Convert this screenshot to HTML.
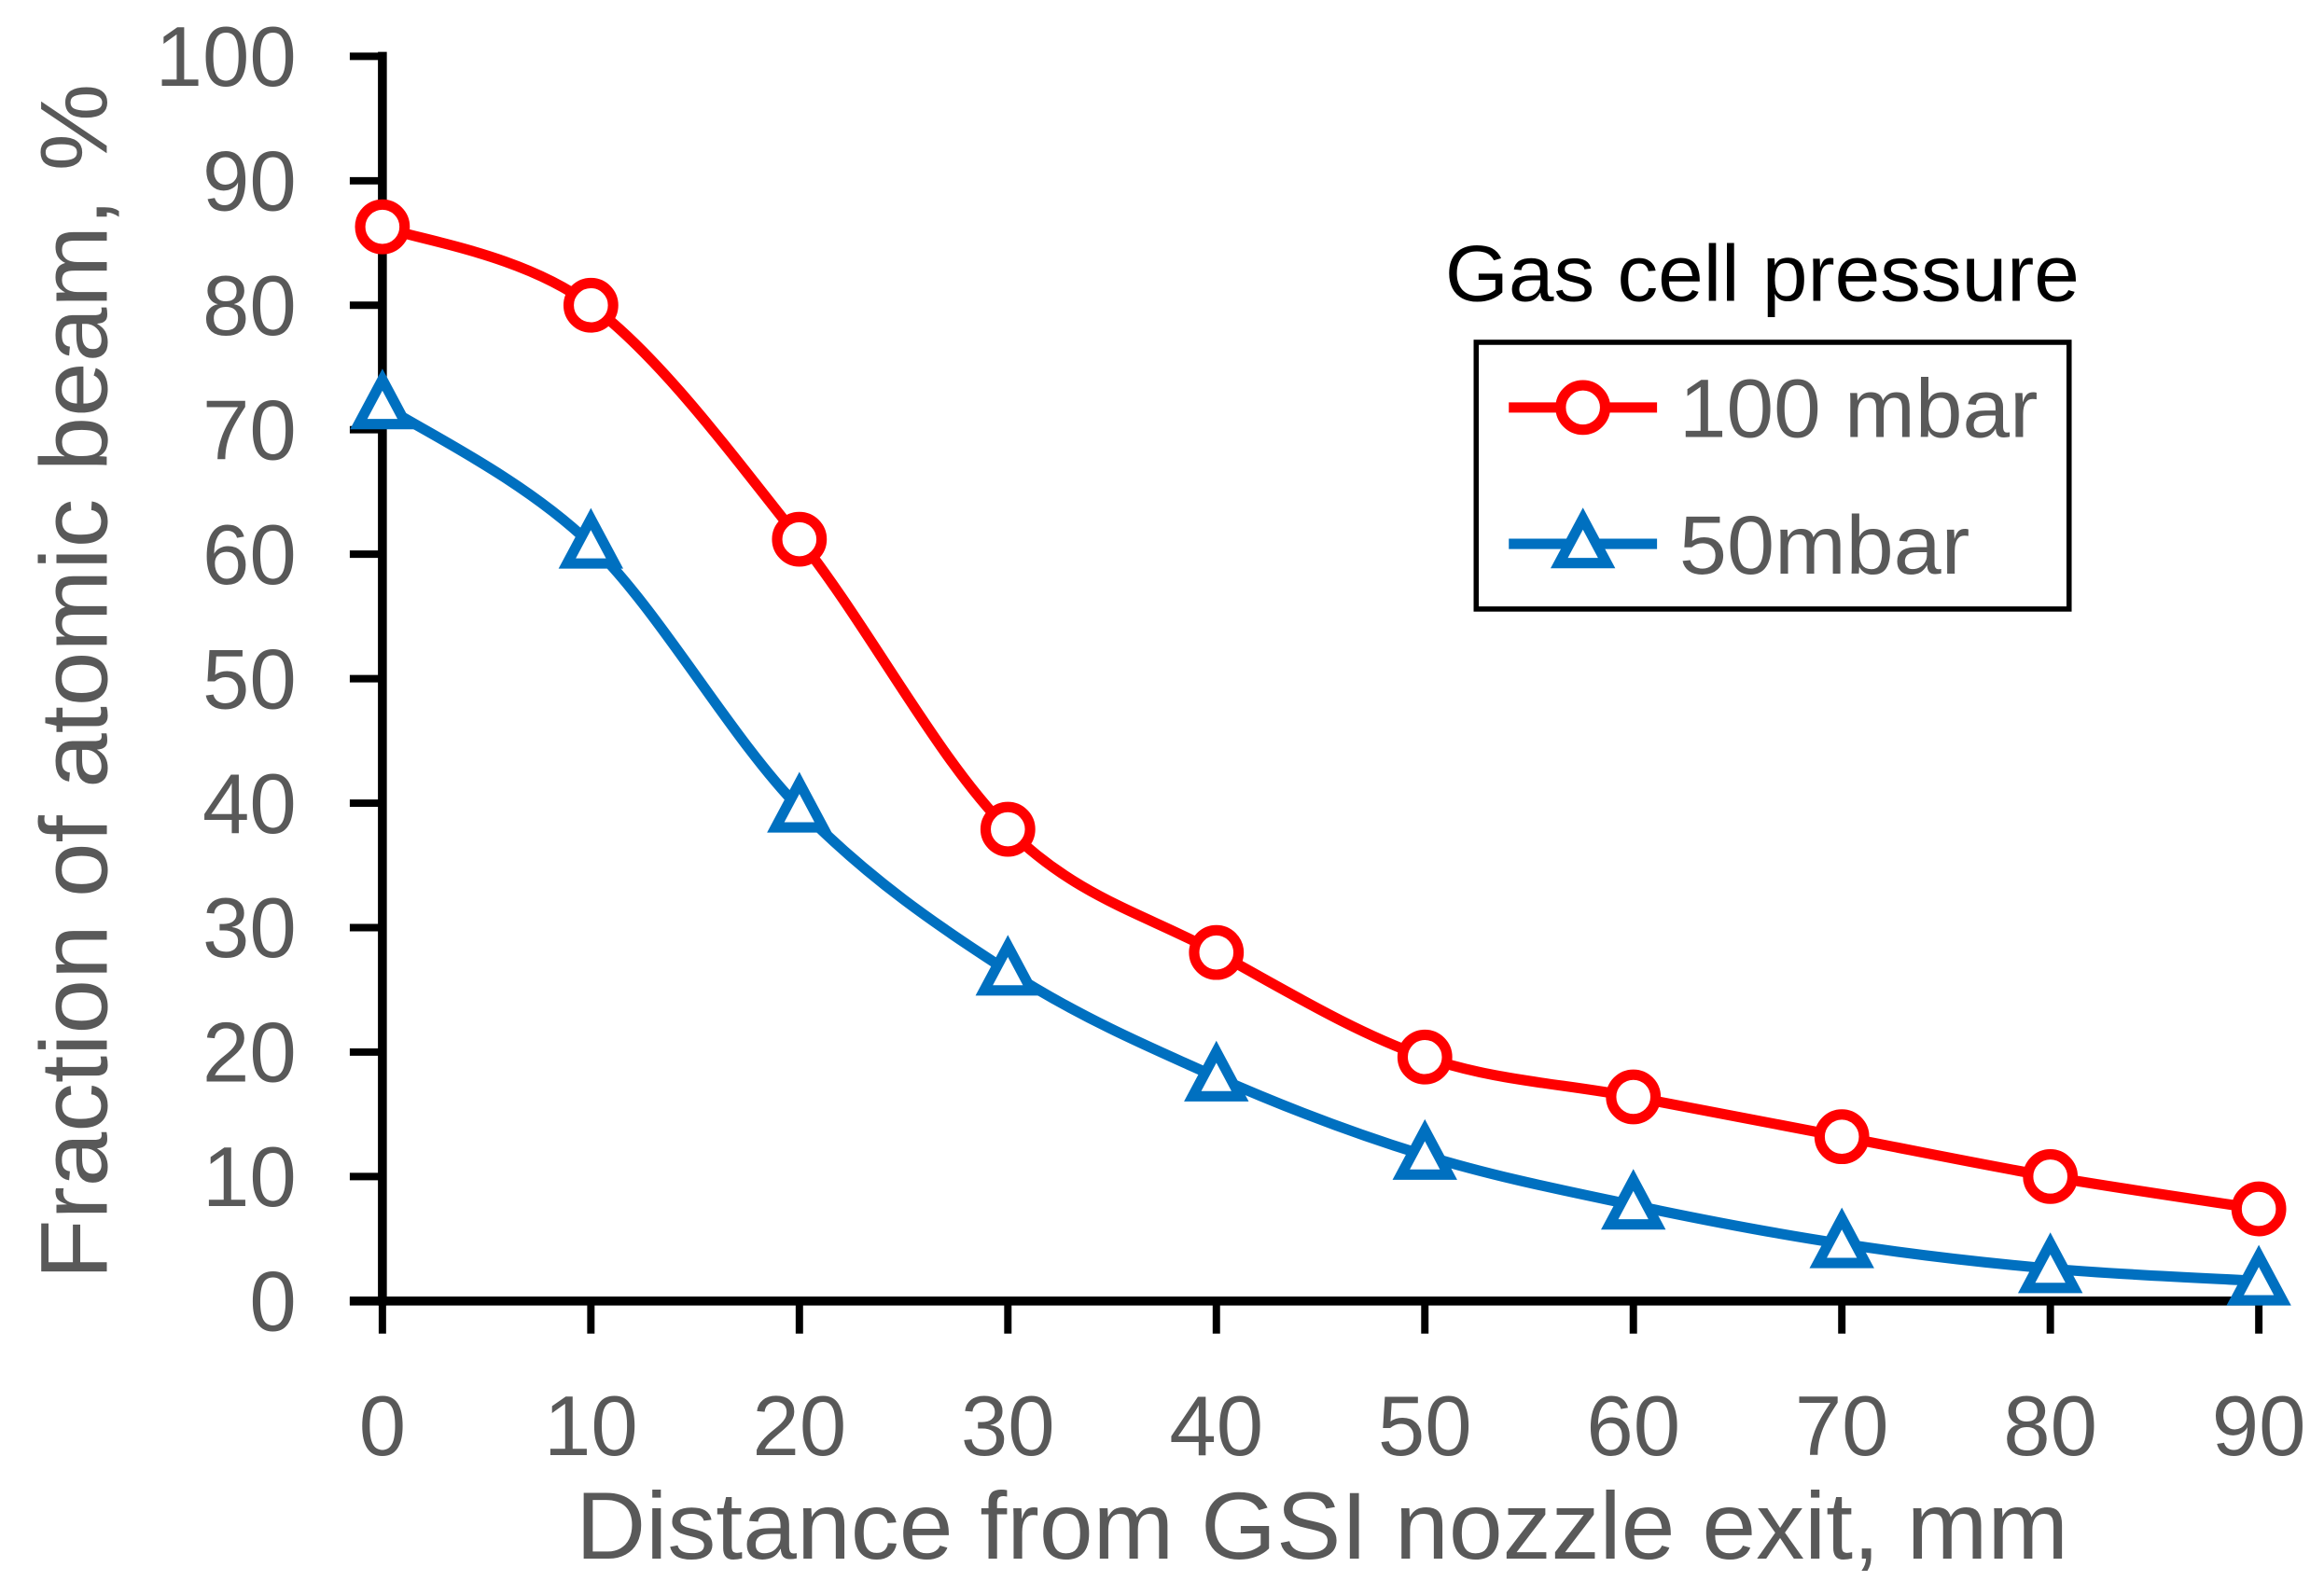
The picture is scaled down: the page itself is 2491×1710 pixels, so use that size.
<!DOCTYPE html>
<html><head><meta charset="utf-8"><style>
html,body{margin:0;padding:0;background:#fff;}
svg{display:block;}
text{font-family:"Liberation Sans",sans-serif;}
</style></head><body>
<svg id="s" width="2491" height="1710" viewBox="0 0 1568 1076.4" preserveAspectRatio="none" xmlns="http://www.w3.org/2000/svg">
<g stroke="#000" stroke-width="6" fill="none">
<line x1="258" y1="35" x2="258" y2="881"/>
<line x1="236" y1="878" x2="1527" y2="878"/>
</g>
<g id="ticks" stroke="#000" stroke-width="5"></g>
<g id="labels" fill="#595959" font-size="57"></g>
<text x="892" y="1052" text-anchor="middle" font-size="64" fill="#595959" textLength="1007" lengthAdjust="spacingAndGlyphs">Distance from GSI nozzle exit, mm</text>
<text transform="translate(72,460) rotate(-90)" text-anchor="middle" font-size="64" fill="#595959" textLength="807" lengthAdjust="spacingAndGlyphs">Fraction of atomic beam, %</text>
<path id="pr" stroke="#ff0000" stroke-width="7" fill="none"/>
<path id="pb" stroke="#0070c0" stroke-width="7" fill="none"/>
<g id="mk"></g>
<text x="975" y="203" font-size="54" fill="#000" textLength="428" lengthAdjust="spacingAndGlyphs">Gas cell pressure</text>
<rect x="996" y="231" width="400" height="180" fill="#fff" stroke="#000" stroke-width="3.5"/>
<line x1="1018" y1="275" x2="1118" y2="275" stroke="#ff0000" stroke-width="7"/>
<circle cx="1068" cy="275" r="15" fill="#fff" stroke="#ff0000" stroke-width="7"/>
<text x="1133" y="295" font-size="56" fill="#595959" textLength="242" lengthAdjust="spacingAndGlyphs">100 mbar</text>
<line x1="1018" y1="367" x2="1118" y2="367" stroke="#0070c0" stroke-width="7"/>
<polygon points="1068,350 1084,380 1052,380" fill="#fff" stroke="#0070c0" stroke-width="7"/>
<text x="1133" y="387" font-size="56" fill="#595959" textLength="196" lengthAdjust="spacingAndGlyphs">50mbar</text>
</svg>
<script>
var NS="http://www.w3.org/2000/svg";
function X(v){return 258+v*14.067;}
function Y(v){return 878-v*8.4;}
var t=document.getElementById('ticks'),l=document.getElementById('labels');
function el(p,n,a,txt){var e=document.createElementNS(NS,n);for(var k in a)e.setAttribute(k,a[k]);if(txt!==undefined)e.textContent=txt;p.appendChild(e);return e;}
for(var i=0;i<=10;i++){var y=Y(i*10);el(t,'line',{x1:236,y1:y,x2:258,y2:y});el(l,'text',{x:200,y:y+20,'text-anchor':'end'},String(i*10));}
for(var i=0;i<=9;i++){var x=X(i*10);el(t,'line',{x1:x,y1:878,x2:x,y2:900});el(l,'text',{x:x,y:982,'text-anchor':'middle'},String(i*10));}
var red=[86.3,80,61.2,37.9,28,19.6,16.4,13.2,10,7.4];
var blue=[72,60.8,39.6,26.5,18,11.7,7.7,4.6,2.6,1.6];
function path(d){var p=d.map(function(v,i){return [X(i*10),Y(v)];});var s='M'+p[0][0]+','+p[0][1];
for(var i=0;i<p.length-1;i++){var p0=p[Math.max(i-1,0)],p1=p[i],p2=p[i+1],p3=p[Math.min(i+2,p.length-1)];
var c1=[p1[0]+(p2[0]-p0[0])/6,p1[1]+(p2[1]-p0[1])/6],c2=[p2[0]-(p3[0]-p1[0])/6,p2[1]-(p3[1]-p1[1])/6];
s+=' C'+c1+' '+c2+' '+p2;}return s;}
document.getElementById('pr').setAttribute('d',path(red));
document.getElementById('pb').setAttribute('d',path(blue));
var m=document.getElementById('mk');
red.forEach(function(v,i){el(m,'circle',{cx:X(i*10),cy:Y(v),r:15,fill:'#fff',stroke:'#ff0000','stroke-width':7});});
blue.forEach(function(v,i){var x=X(i*10),y=Y(v);el(m,'polygon',{points:x+','+(y-17)+' '+(x+16)+','+(y+13)+' '+(x-16)+','+(y+13),fill:'#fff',stroke:'#0070c0','stroke-width':7});});
</script>
</body></html>
